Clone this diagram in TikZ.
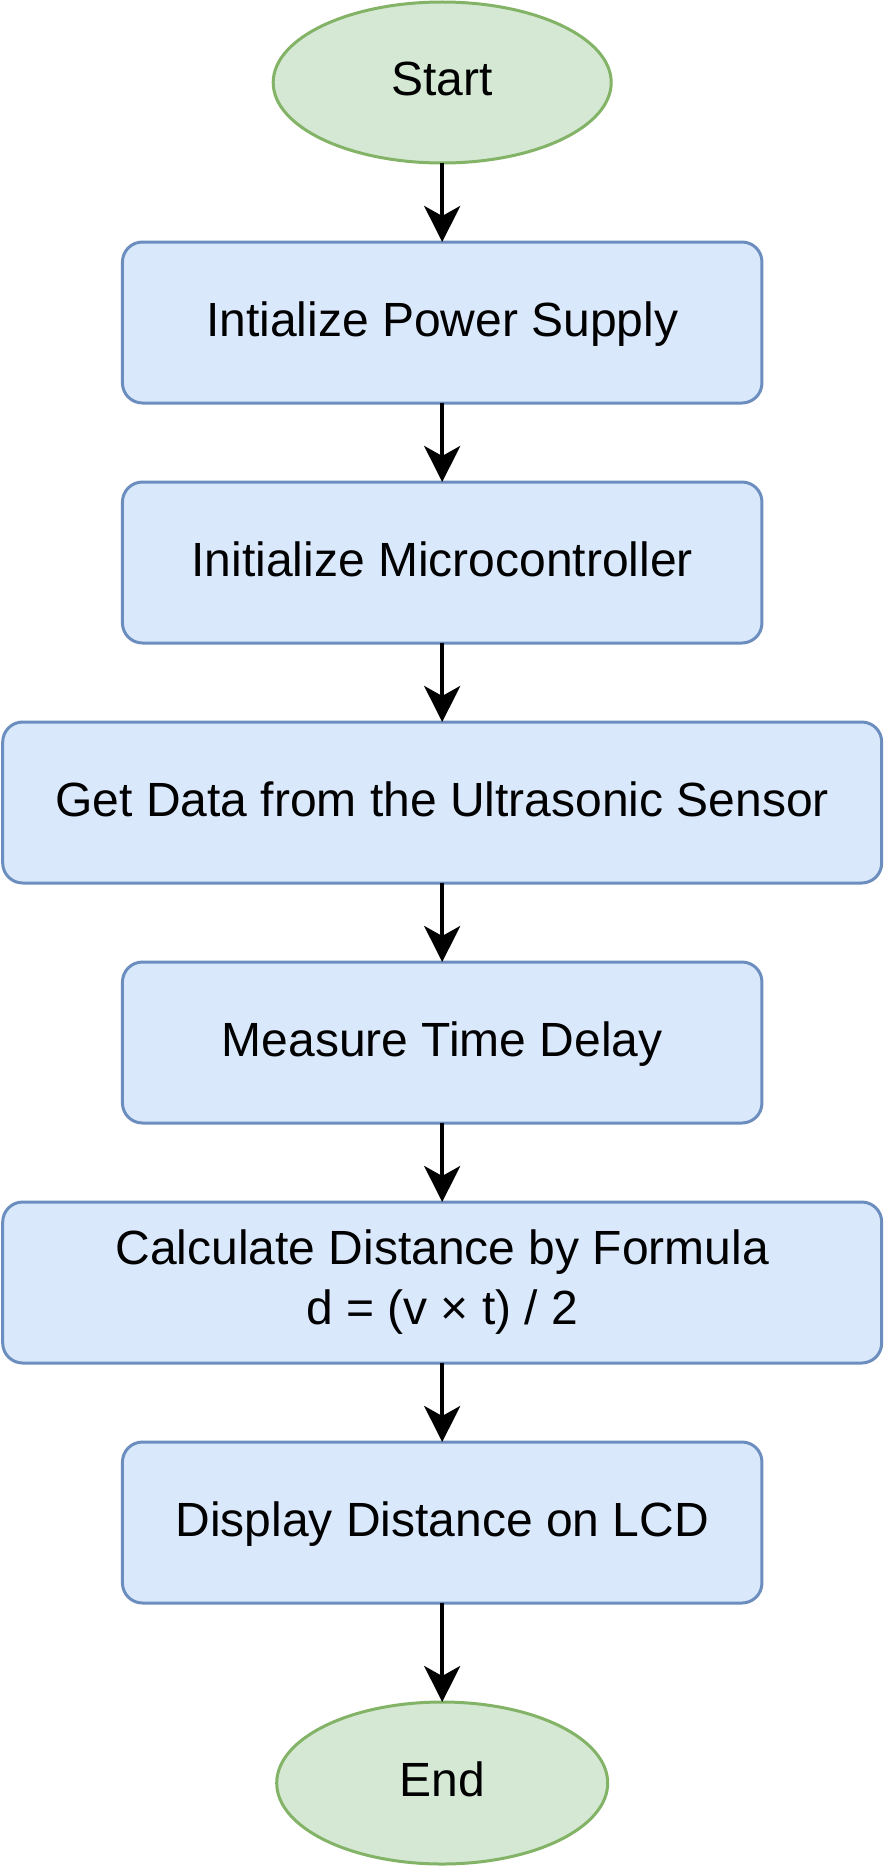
\documentclass[tikz,border=0pt]{standalone}
\usepackage{fontspec}
\setmainfont{Liberation Sans}
\usetikzlibrary{positioning,shapes.geometric,arrows.meta}
\definecolor{termfill}{HTML}{D5E8D4}
\definecolor{termline}{HTML}{82B366}
\definecolor{procfill}{HTML}{DAE8FC}
\definecolor{procline}{HTML}{6C8EBF}
\tikzset{
  terminal/.style={ellipse, draw=termline, fill=termfill, line width=1.5pt, inner sep=0pt, outer sep=0pt},
  process/.style={rectangle, rounded corners=10pt, draw=procline, fill=procfill, line width=1.5pt, minimum height=80.5pt, outer sep=0pt, align=center},
  oneline/.style={text height=18.3pt, text depth=4.8pt},
  flow/.style={-{Stealth[length=18pt,width=18pt,inset=5pt]}, line width=2pt}
}
\begin{document}
\begin{tikzpicture}[font=\fontsize{24pt}{30pt}\selectfont, node distance=39.5pt]
  \useasboundingbox (0,0) rectangle (444pt,-934pt);

  \node[terminal, oneline, minimum width=169pt, minimum height=80.5pt] (start) at (221.1pt,-41.25pt) {Start};
  \node[process, oneline, minimum width=319.75pt, below=of start] (power) {Intialize Power Supply};
  \node[process, oneline, minimum width=319.75pt, below=of power] (micro) {Initialize Microcontroller};
  \node[process, oneline, minimum width=439.5pt, below=of micro] (sensor) {Get Data from the Ultrasonic Sensor};
  \node[process, oneline, minimum width=319.75pt, below=of sensor] (delay) {Measure Time Delay};
  \node[process, minimum width=439.5pt, below=of delay] (calc) {Calculate Distance by Formula\\d = (v × t) / 2};
  \node[process, oneline, minimum width=319.75pt, below=of calc] (display) {Display Distance on LCD};
  \node[terminal, oneline, minimum width=165.5pt, minimum height=81pt, below=49.5pt of display] (end) {End};

  \draw[flow] (start) -- (power);
  \draw[flow] (power) -- (micro);
  \draw[flow] (micro) -- (sensor);
  \draw[flow] (sensor) -- (delay);
  \draw[flow] (delay) -- (calc);
  \draw[flow] (calc) -- (display);
  \draw[flow] (display) -- (end);
\end{tikzpicture}
\end{document}
